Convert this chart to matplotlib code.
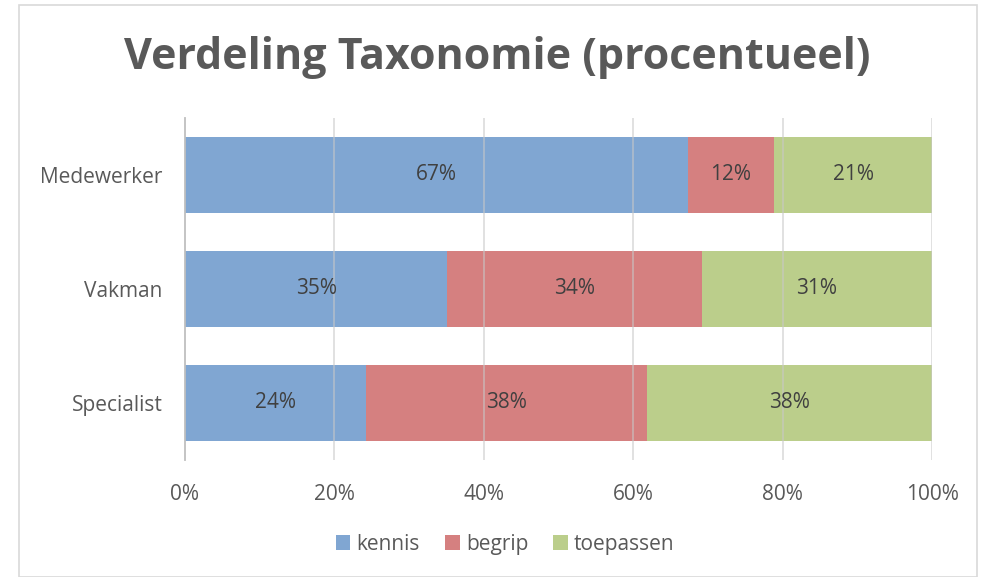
import numpy as np
import matplotlib.pyplot as plt
from matplotlib.patches import Rectangle

plt.rcParams['font.family'] = ['Open Sans', 'DejaVu Sans']

# data (share per level, in %)
categories = ["Medewerker", "Vakman", "Specialist"]
kennis = [67.3, 35.1, 24.2]
begrip = [11.6, 34.1, 37.6]
toepassen = [21.1, 30.8, 38.2]
series_names = ["kennis", "begrip", "toepassen"]
colors = ["#80A6D2", "#D58080", "#BBCE8B"]
ticks = [0, 20, 40, 60, 80, 100]

fig = plt.figure(figsize=(9.85, 5.77), dpi=100)
ax = fig.add_axes([0.1878, 0.2028, 0.7584, 0.5927])

# border of chart area
fig.patches.append(Rectangle((19/985, 0), 958/985, 1 - 5/577, transform=fig.transFigure,
                             fill=False, edgecolor="#D9D9D9", linewidth=1.2))

y = np.arange(len(categories))
left = np.zeros(len(categories))
for name, vals, c in zip(series_names, [kennis, begrip, toepassen], colors):
    vals = np.array(vals)
    ax.barh(y, vals, left=left, height=0.66, color=c, label=name, zorder=2)
    for yi, l, v in zip(y, left, vals):
        ax.text(l + v / 2, yi, f"{round(v):d}%", ha="center", va="center",
                fontsize=15, color="#404040", zorder=4)
    left += vals

ax.set_xlim(0, 100)
ax.set_ylim(2.5, -0.5)
ax.set_yticks(y)
ax.set_yticklabels(categories)
ax.set_xticks(ticks)
ax.set_xticklabels([f"{t}%" for t in ticks])
ax.tick_params(axis="both", length=0, labelsize=15, labelcolor="#595959")
ax.tick_params(axis="x", pad=17)
ax.tick_params(axis="y", pad=16)

for t in ticks[1:]:
    ax.axvline(t, color="#C8C8C8", linewidth=1.3, alpha=0.6, zorder=3)
for s in ["top", "right", "bottom"]:
    ax.spines[s].set_visible(False)
ax.spines["left"].set_color("#BFBFBF")
ax.spines["left"].set_linewidth(1.3)
ax.spines["left"].set_zorder(3)

fig.text(0.505, 0.9, "Verdeling Taxonomie (procentueel)", ha="center", va="center",
         fontsize=31, fontweight="bold", color="#595959")

fig.legend(loc="center", bbox_to_anchor=(0.513, 0.057), ncol=3, frameon=False,
           fontsize=15, labelcolor="#595959", handlelength=0.7, handleheight=0.7,
           handletextpad=0.3, columnspacing=1.2)

plt.savefig("out.png", dpi=100)
